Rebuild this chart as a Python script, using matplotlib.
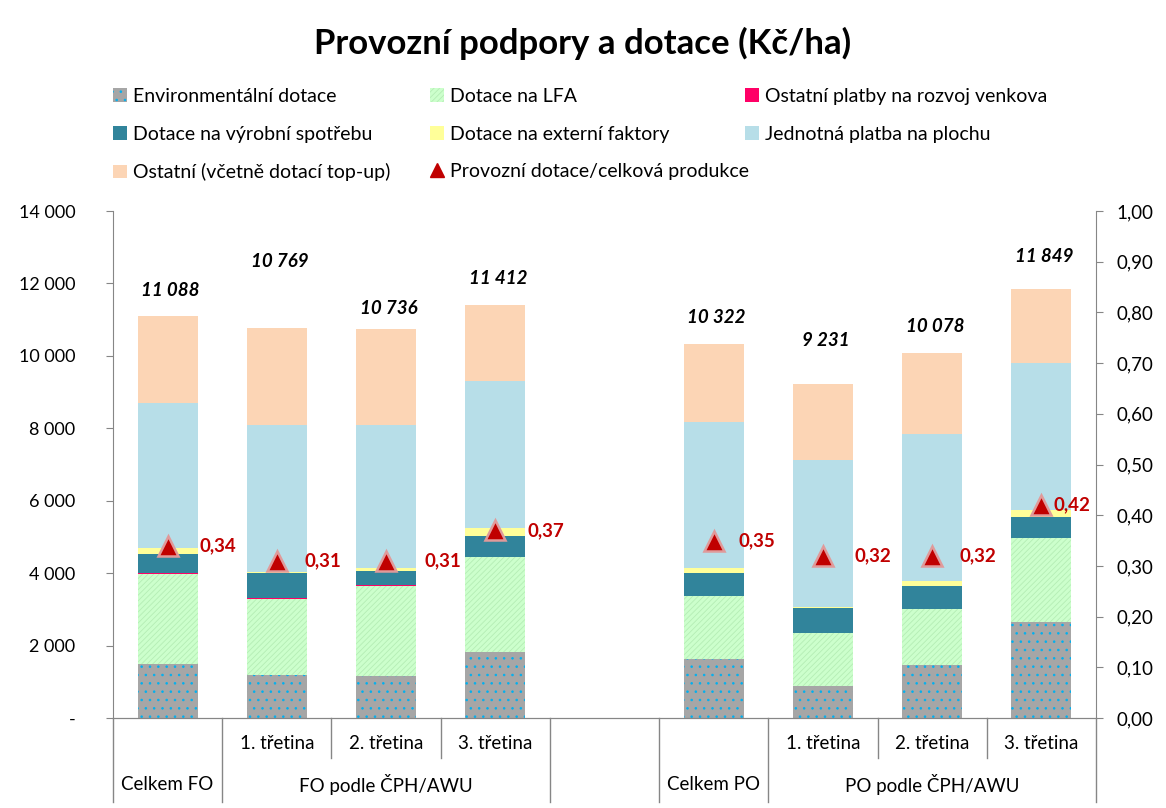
import matplotlib.pyplot as plt
from matplotlib.patches import Patch
from matplotlib.lines import Line2D
import matplotlib.transforms as mtransforms

plt.rcParams['font.family'] = ['Lato', 'DejaVu Sans']
plt.rcParams['hatch.linewidth'] = 0.6

# slots on the category axis (empty slot between FO and PO)
kategorie = ['', '1. třetina', '2. třetina', '3. třetina', '', '', '1. třetina', '2. třetina', '3. třetina']
skupiny = ['Celkem FO', 'FO podle ČPH/AWU', 'Celkem PO', 'PO podle ČPH/AWU']
pozice = [0, 1, 2, 3, 5, 6, 7, 8]

env = [1497, 1190, 1160, 1820, 1630, 885, 1465, 2650]
lfa = [2480, 2090, 2495, 2625, 1740, 1460, 1545, 2315]
ostatni_venkov = [20, 30, 10, 5, 5, 5, 5, 15]
vyrobni = [540, 700, 395, 580, 635, 700, 635, 570]
externi = [165, 30, 82, 230, 140, 20, 140, 195]
jednotna = [4000, 4060, 3950, 4050, 4030, 4060, 4060, 4060]
celkem = [11088, 10769, 10736, 11412, 10322, 9231, 10078, 11849]
ostatni_topup = [c - (a + b + d + e + f + g) for c, a, b, d, e, f, g in
                 zip(celkem, env, lfa, ostatni_venkov, vyrobni, externi, jednotna)]
pomer = [0.34, 0.31, 0.31, 0.37, 0.35, 0.32, 0.32, 0.42]

# label placement tweaks (points)
total_dy = [19, 48, 15, 19, 19, 31, 19, 23]
ratio_dx = [23, 20, 28, 23, 18, 23, 20, 9]

fig = plt.figure(figsize=(11.66, 8.08), dpi=100)
ax = fig.add_axes([113 / 1166, 1 - 718 / 808, 983 / 1166, 507 / 808])

serie = [
    (env, 'Environmentální dotace', '#A6A6A6', '#00B0F0', '..'),
    (lfa, 'Dotace na LFA', '#CCFFCC', '#B4EDB4', '//////'),
    (ostatni_venkov, 'Ostatní platby na rozvoj venkova', '#FF0066', None, None),
    (vyrobni, 'Dotace na výrobní spotřebu', '#31849B', None, None),
    (externi, 'Dotace na externí faktory', '#FFFF99', None, None),
    (jednotna, 'Jednotná platba na plochu', '#B7DEE8', None, None),
    (ostatni_topup, 'Ostatní (včetně dotací top-up)', '#FCD5B5', None, None),
]

handles = {}
spodek = [0] * len(pozice)
for hodnoty, nazev, barva, hbarva, hatch in serie:
    if hatch:
        ax.bar(pozice, hodnoty, 0.55, bottom=spodek, color=barva, edgecolor=hbarva,
               hatch=hatch, linewidth=0)
    else:
        ax.bar(pozice, hodnoty, 0.55, bottom=spodek, color=barva, linewidth=0)
    handles[nazev] = Patch(facecolor=barva, edgecolor=hbarva if hbarva else barva,
                           hatch=hatch, linewidth=0)
    spodek = [s + h for s, h in zip(spodek, hodnoty)]

ax.set_xlim(-0.5, 8.5)
ax.set_ylim(0, 14000)
ax.set_yticks(range(0, 14001, 2000))
ax.set_yticklabels(['-'] + ['{:,}'.format(v).replace(',', ' ') for v in range(2000, 14001, 2000)])
ax.set_xticks([])

for x, c, dy in zip(pozice, celkem, total_dy):
    ax.annotate('{:,}'.format(c).replace(',', ' '), (x, c), xytext=(2, dy),
                textcoords='offset points', ha='center', va='center',
                fontsize=13.5, fontweight='bold', fontstyle='italic')

ax2 = ax.twinx()
ax2.set_ylim(0, 1)
ax2.set_yticks([i / 10 for i in range(11)])
ax2.set_yticklabels(['{:.2f}'.format(i / 10).replace('.', ',') for i in range(11)])
ax2.plot(pozice, pomer, linestyle='none', marker='^', markersize=14,
         markerfacecolor='#C00000', markeredgecolor='#E09A9A', markeredgewidth=1.8)
for x, p, dx in zip(pozice, pomer, ratio_dx):
    ax2.annotate('{:.2f}'.format(p).replace('.', ','), (x, p), xytext=(dx, 0),
                 textcoords='offset points', ha='left', va='center',
                 fontsize=13.5, fontweight='bold', color='#C00000')

seda = '#868686'
for a in (ax, ax2):
    a.spines['top'].set_visible(False)
    for s in ['left', 'right', 'bottom']:
        a.spines[s].set_color(seda)
ax.spines['right'].set_visible(False)
ax2.spines['left'].set_visible(False)
ax.tick_params(axis='y', labelsize=13, length=5, color=seda, pad=22)
ax2.tick_params(axis='y', labelsize=13.5, length=5, color=seda, pad=10)

# category table under the axis
trans = mtransforms.blended_transform_factory(ax.transData, ax.transAxes)
for x in [-0.5, 0.5, 3.5, 4.5, 5.5, 8.5]:
    ax.add_line(Line2D([x, x], [0, -0.165], transform=trans, color=seda, lw=1, clip_on=False))
for x in [1.5, 2.5, 6.5, 7.5]:
    ax.add_line(Line2D([x, x], [0, -0.079], transform=trans, color=seda, lw=1, clip_on=False))
for i, k in enumerate(kategorie):
    if k:
        ax.text(i, -0.05, k, transform=trans, ha='center', va='center', fontsize=13.5)
for x, g in zip([0, 2, 5, 7], skupiny):
    ax.text(x, -0.131, g, transform=trans, ha='center', va='center', fontsize=13.5)

fig.text(0.5, 1 - 43 / 808, 'Provozní podpory a dotace (Kč/ha)', ha='center', va='center',
         fontsize=25, fontweight='bold')

handles['Provozní dotace/celková produkce'] = Line2D([], [], linestyle='none', marker='^',
                                                     markersize=10, markerfacecolor='#C00000',
                                                     markeredgecolor='#C00000')
sloupce = [
    ['Environmentální dotace', 'Dotace na výrobní spotřebu', 'Ostatní (včetně dotací top-up)'],
    ['Dotace na LFA', 'Dotace na externí faktory', 'Provozní dotace/celková produkce'],
    ['Ostatní platby na rozvoj venkova', 'Jednotná platba na plochu'],
]
for x0, nazvy in zip([113, 430, 745], sloupce):
    fig.legend([handles[n] for n in nazvy], nazvy, loc='upper left',
               bbox_to_anchor=(x0 / 1166, 1 - 88 / 808), frameon=False, fontsize=14,
               handlelength=0.7, handleheight=0.7, handletextpad=0.35,
               labelspacing=1.06, borderpad=0, borderaxespad=0)

plt.savefig('out.png', dpi=100)
